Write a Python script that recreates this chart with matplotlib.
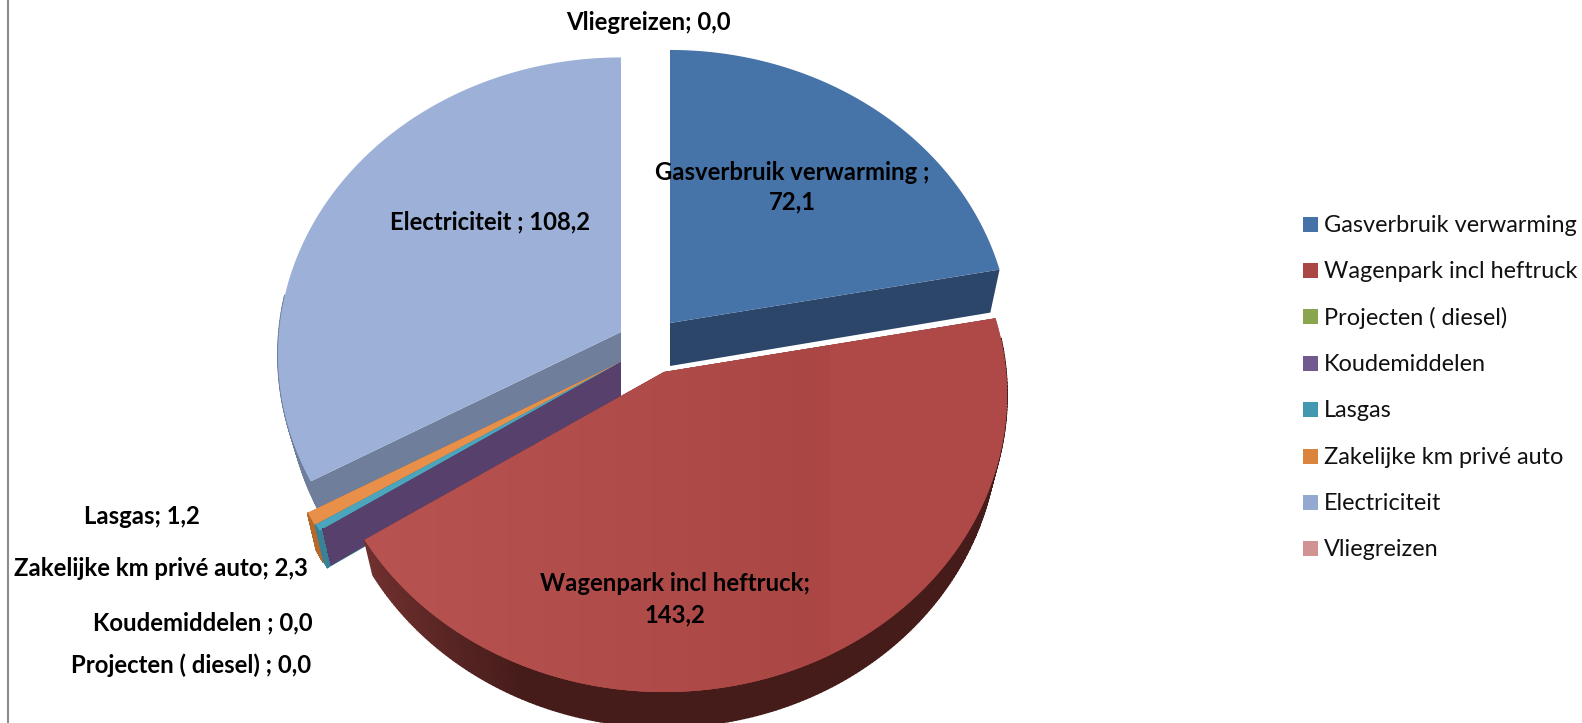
import numpy as np
import matplotlib
matplotlib.use('Agg')
import matplotlib.pyplot as plt
from matplotlib.patches import Polygon, Rectangle

W,H = 1582,723

#Data
names = ['Gasverbruik verwarming','Wagenpark incl heftruck','Projecten ( diesel)','Koudemiddelen',
    'Lasgas','Zakelijke km privé auto','Electriciteit','Vliegreizen']
values = [72.1,143.2,0.0,0.0,1.2,2.3,108.2,0.0]
legend_colors = ['#4572A7','#AA4643','#89A54E','#71588F','#4198AF','#DB843D','#93A9CF','#D19392']
top_colors = ['#4673A8','#AE4947','#89A54E','#71588F','#4BA5BC','#E8904A','#9DB1D8','#D19392']
wall_colors = ['#2B4669','#451C1A','#556632','#57406B','#3A8195','#B56A2C','#6E7E9B','#8A5F5E']

#Pixel layout of the exploded slices: centre, radius factor and wall height of each slice
centres = [(670,323),(664,372),(621,362),(621,362),(621,362),(621,362),(621,332),(645,300)]
radii = [1.0,1.006,1.0,1.0,1.012,1.015,1.006,1.0]
depths = [43,35,36,36,37,37,30,30]
a,b,k = 340.0,293.8,0.076
shrink = 0.972

total = sum(values)
edges = np.concatenate([[0],np.cumsum(values)])/total*2*np.pi

def project(i,theta,low=False):
    #theta clockwise from north, tilted disc with a bit of perspective
    cx,cy = centres[i]
    u = radii[i]*np.sin(theta)
    v = radii[i]*np.cos(theta)
    w = 1+k*v
    if low:
        return cx+a*shrink*u/w, cy-b*v/w+depths[i]
    return cx+a*u/w, cy-b*v/w

def wall_color(i,x):
    #only the truck slice visibly fades along its wall
    if i != 1:
        return wall_colors[i]
    f = np.interp(x,[365,520],[0,1])
    c0 = np.array(matplotlib.colors.to_rgb('#6F302E'))
    c1 = np.array(matplotlib.colors.to_rgb(wall_colors[1]))
    return tuple(c0*(1-f)+c1*f)

def draw_walls(i,z):
    cx,cy = centres[i]
    #radial walls, first the leading edge then the closing edge
    for th in (edges[i],edges[i+1]):
        x0,y0 = project(i,th)
        x1,y1 = project(i,th,low=True)
        ax.add_patch(Polygon([(cx,cy),(x0,y0),(x1,y1),(cx,cy+depths[i])],closed=True,
            fc=wall_colors[i],ec='none',zorder=z))
    #outer wall only where it faces the viewer
    t = np.linspace(edges[i],edges[i+1],240)
    for j in range(len(t)-1):
        if np.cos(t[j]) > 0.12:
            continue
        x0,y0 = project(i,t[j])
        x1,y1 = project(i,t[j+1])
        x2,y2 = project(i,t[j+1],low=True)
        x3,y3 = project(i,t[j],low=True)
        c = wall_color(i,x0)
        ax.add_patch(Polygon([(x0,y0),(x1,y1),(x2,y2),(x3,y3)],closed=True,fc=c,ec=c,lw=1.2,zorder=z))

def draw_top(i,z):
    if values[i] == 0:
        return
    x,y = project(i,np.linspace(edges[i],edges[i+1],300))
    poly = Polygon(np.r_[[centres[i]],np.c_[x,y]],closed=True,fc=top_colors[i],ec='none',zorder=z)
    ax.add_patch(poly)
    if i == 1:
        #soft left to right fade on the big slice
        cmap = matplotlib.colors.LinearSegmentedColormap.from_list('fade',['#B75351','#AA4644'])
        im = ax.imshow(np.linspace(0,1,256)[None,:],cmap=cmap,extent=[365,830,H,0],aspect='auto',zorder=z)
        im.set_clip_path(poly)
        right = Polygon(np.r_[[centres[i]],np.c_[x,y]],closed=True,fc='#AA4644',ec='none',zorder=z-0.5)
        ax.add_patch(right)

fig = plt.figure(figsize=(W/100,H/100),dpi=100)
ax = fig.add_axes([0,0,1,1])
ax.plot([8,8],[0,H],color='#8C8C8C',lw=1.5,zorder=1)

#back to front: electricity and gas behind, thin slices next, truck last
order = [0,6,5,4,3,1]
for n,i in enumerate(order):
    draw_walls(i,2+n*2)
    draw_top(i,3+n*2)

ax.set_xlim(0,W)
ax.set_ylim(H,0)
ax.axis('off')

#Labels
bold = dict(family='Lato',fontweight='bold',fontsize=17.2,color='black',zorder=30)
ax.text(648,23,'Vliegreizen; 0,0',ha='center',va='center',**bold)
ax.text(792,187,'Gasverbruik verwarming ;\n72,1',ha='center',va='center',linespacing=1.32,**bold)
ax.text(490,222,'Electriciteit ; 108,2',ha='center',va='center',**bold)
ax.text(675,599,'Wagenpark incl heftruck;\n143,2',ha='center',va='center',linespacing=1.42,**bold)
ax.text(200,517,'Lasgas; 1,2',ha='right',va='center',**bold)
ax.text(308,569,'Zakelijke km privé auto; 2,3',ha='right',va='center',**bold)
ax.text(313,623,'Koudemiddelen ; 0,0',ha='right',va='center',**bold)
ax.text(311,665,'Projecten ( diesel) ; 0,0',ha='right',va='center',**bold)

#Legend
for i,name in enumerate(names):
    y = 224+i*46.4
    ax.add_patch(Rectangle((1303,y-7.5),15,15,fc=legend_colors[i],ec='none',zorder=30))
    ax.text(1324,y+1,name,ha='left',va='center',family='Lato',fontsize=16.9,color='#111111',zorder=30)

fig.savefig('out.png',dpi=100)
